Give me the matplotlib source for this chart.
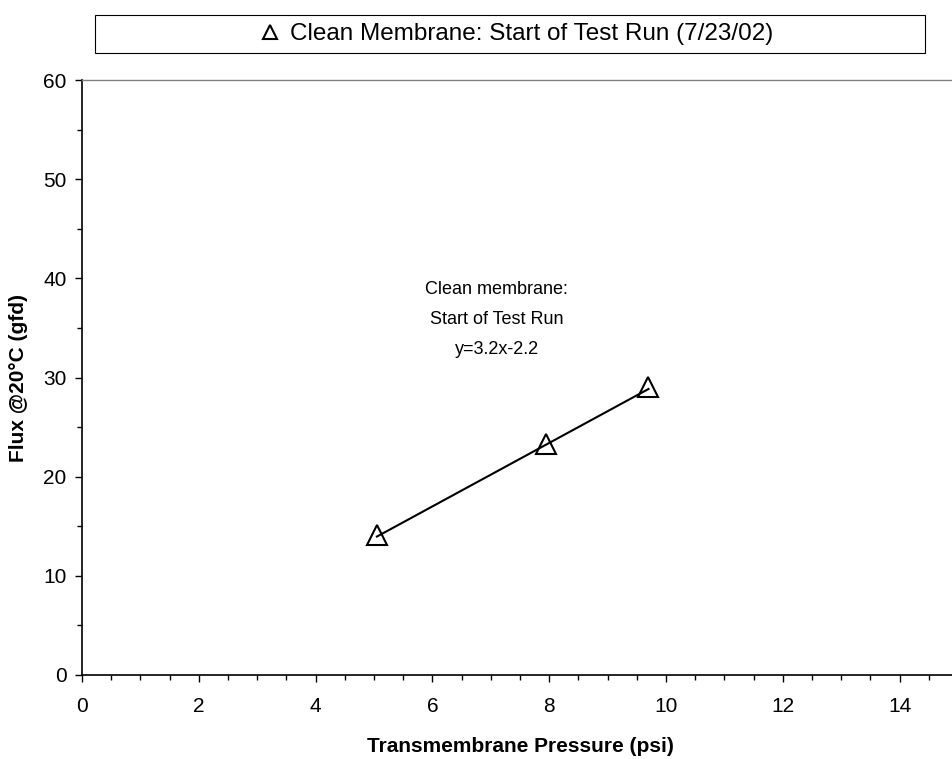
import numpy as np
import matplotlib.pyplot as plt
from matplotlib.patches import Rectangle
from matplotlib.ticker import MultipleLocator

plt.rcParams['font.family'] = ['Liberation Sans', 'DejaVu Sans']

# transmembrane pressure (psi) and temperature-corrected flux (gfd)
tmp_psi = [5.05, 7.95, 9.7]
flux_gfd = [14.1, 23.3, 29.0]
fit_slope = 3.2
fit_intercept = -2.2
series_label = 'Clean Membrane: Start of Test Run (7/23/02)'
note_lines = ['Clean membrane:', 'Start of Test Run', 'y=3.2x-2.2']

W, H = 953, 759
fig = plt.figure(figsize=(W / 100, H / 100), dpi=100)
ax = fig.add_axes([82 / W, 1 - 675 / H, 876 / W, 595 / H])

# linear fit over the measured range
xf = np.array([min(tmp_psi), max(tmp_psi)])
ax.plot(xf, fit_slope * xf + fit_intercept, color='black', lw=1.5, zorder=2)
h, = ax.plot(tmp_psi, flux_gfd, ls='none', marker='^', ms=14, mfc='none',
             mec='black', mew=1.5, zorder=3, label=series_label)

ax.set_xlim(0, 15)
ax.set_ylim(0, 60)
ax.xaxis.set_major_locator(MultipleLocator(2))
ax.xaxis.set_minor_locator(MultipleLocator(0.5))
ax.yaxis.set_major_locator(MultipleLocator(10))
ax.yaxis.set_minor_locator(MultipleLocator(5))
ax.tick_params(which='major', length=5, width=1, labelsize=15)
ax.tick_params(which='minor', length=3.5, width=1)
ax.tick_params(axis='x', which='major', pad=11)
ax.tick_params(axis='y', which='major', pad=6)

ax.spines['right'].set_visible(False)
ax.spines['top'].set_color('#808080')
ax.spines['top'].set_linewidth(1)
ax.spines['left'].set_linewidth(1.2)
ax.spines['bottom'].set_linewidth(1.2)

ax.set_xlabel('Transmembrane Pressure (psi)', fontsize=15, fontweight='bold',
              labelpad=15)
ax.set_ylabel('Flux @20°C (gfd)', fontsize=15, fontweight='bold', labelpad=11)

ax.text(7.1, 35.8, '\n'.join(note_lines), ha='center', va='center',
        fontsize=13, linespacing=2.0)

# legend box spanning the top of the figure
fig.patches.append(Rectangle((95 / W, 1 - 53 / H), 830 / W, 38 / H,
                             transform=fig.transFigure, fill=False,
                             edgecolor='black', lw=0.8))
fig.legend(handles=[h], loc='center', bbox_to_anchor=(518 / W, 1 - 34 / H),
           fontsize=17.5, frameon=False, handlelength=0.6, handletextpad=0.5,
           borderpad=0.2, markerscale=0.75)

fig.savefig('out.png', dpi=100)
